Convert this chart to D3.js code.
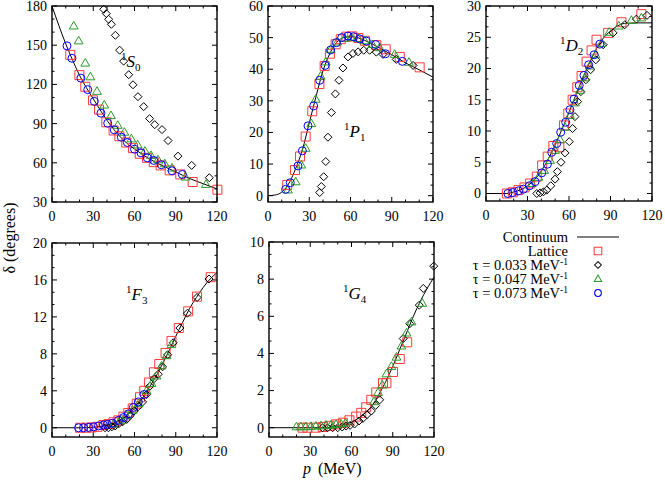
<!doctype html>
<html>
<head>
<meta charset="utf-8">
<title>Phase shifts</title>
<style>
  body { margin: 0; background: #fff; }
  text { font-family: "Liberation Serif", "DejaVu Serif", serif; fill: #000; }
</style>
</head>
<body>
<div id="here"></div>
<script src="https://d3js.org/d3.v7.min.js"></script>
<script>
  var w = 665, h = 486;

  // datos: [p (MeV), delta (grados)]
  var xTicks = [0, 30, 60, 90, 120];

  // 1S0
  var s0Cont = [[0,180],[5,165],[10,151],[15,138.5],[20,127],[25,117.5],[30,109],[35,100.5],[40,92.5],[45,85.5],[50,79.5],[55,74.5],[60,70.5],[65,67],[70,63.5],[80,58],[90,53],[100,48],[110,44],[120,40]];
  var s0Lat = [[13.3,142.6],[19.9,127.1],[24.2,118.2],[29.8,107.8],[34.2,100.7],[39.5,91],[44.8,84.7],[49,80.3],[54,75.5],[58.9,71.2],[63.8,66.9],[69.1,63.8],[74,60.5],[79,58],[85.6,54.2],[93.3,51.1],[102.3,45.3],[120.3,39.4]];
  var s0T033 = [[37.6,177.5],[39.5,174.2],[41.2,169.8],[43.2,166],[46.1,157.6],[49.2,146.2],[52.1,137.8],[55.8,127.4],[58.9,119.7],[62.5,110.6],[66.7,103],[71,93.8],[74.7,89.2],[80,85.4],[84.4,77],[91.6,65.1],[101.6,58],[114.4,48.6]];
  var s0T047 = [[15.8,164.7],[19.4,153.3],[24.2,136.3],[27.9,125.8],[32.7,114.7],[38,104.2],[42.9,96.1],[47.8,88.7],[52.6,83.4],[57.7,78.3],[62.3,73.7],[67.6,68.9],[72,65.6],[77.1,62.3],[82,59.2],[87.3,56],[97,49.1],[112,43.5]];
  var s0T073 = [[10.9,149.5],[14.5,140],[21,124.8],[26,116],[30.8,107],[35.6,98],[40.5,90.3],[45.3,85.2],[50.4,79.6],[54.8,75.5],[60,70.4],[64.7,67.6],[69.3,63.8],[74,61.8],[79.5,58.5],[87.3,53.9],[94.8,51.1]];

  // 1P1
  var p1Cont = [[0,0],[5,0.2],[10,1.1],[13,2.5],[16,4.5],[20,8.5],[25,14.5],[30,23],[35,31.5],[40,39.5],[45,45],[50,48.5],[55,50],[60,50.3],[65,50],[70,49.2],[80,47],[90,44.6],[100,42],[110,39.8],[120,37.5]];
  var p1Lat = [[14,3.4],[19.6,8.1],[23.3,12.4],[27.4,18.7],[32.2,26.7],[37.4,35.3],[41.2,41],[45,44.9],[49.2,47.9],[52.9,49.5],[57,50.3],[61.3,50.4],[65.7,49.9],[70.5,49],[78.8,47.6],[85.6,46.3],[95.8,43.9],[110.3,40.6]];
  var p1T033 = [[37.6,1],[38.8,2.9],[40.5,6],[42,10.8],[43.6,18.5],[46.1,26.3],[49,32.2],[51.6,36.5],[54.5,40.4],[58.2,43.9],[61.8,45],[65.5,45.5],[69.6,46],[73.9,46],[78.8,45.4],[83.6,44.7],[93.3,43.1],[105.5,41.2]];
  var p1T047 = [[14.5,1.8],[20.1,4.4],[24.2,9.7],[27.4,15],[31.5,22.8],[34.7,30.5],[38.3,37.8],[42,42.3],[45.6,46.3],[50.4,48.6],[55.8,49.8],[60.6,50],[65.5,49.7],[70.3,49],[75.9,47.8],[81.2,46.8],[92.1,44.7],[102.5,42.2]];
  var p1T073 = [[12.8,2],[16.2,4.1],[21.8,9.4],[25,14.2],[29.1,22.1],[33.2,28.4],[37.6,36.5],[41.5,41.2],[45.6,46.1],[49.7,48.4],[53.6,50],[58.2,50.5],[62.3,50.3],[66.7,49.6],[71.5,48.9],[78.3,47.8],[85.5,44.9],[97.7,42.5]];

  // 1D2
  var d2Cont = [[0,0],[15,0],[20,0.25],[25,0.6],[30,1.2],[35,2.2],[40,3.6],[45,5.5],[50,7.8],[55,10.3],[60,13],[65,15.8],[70,18.5],[75,21],[80,23.2],[85,24.9],[90,26],[95,26.8],[100,27.2],[110,27.3],[120,27.3]];
  var d2Lat = [[15.1,0],[19.4,0.2],[23.5,0.54],[27.8,0.97],[31.9,1.6],[36.7,2.7],[40.6,4.5],[44.6,5.9],[48.7,7.6],[53,7.4],[56.4,10.9],[59.5,12.8],[62.6,15],[66,17],[69.1,18.8],[72.7,21.1],[76.3,22.9],[79.9,24.6],[88.3,25.7],[97.9,27.4],[112.3,28.7]];
  var d2T033 = [[36.7,0],[39.1,0.1],[41.5,0.27],[43.9,0.54],[46.8,1.24],[49.9,2.3],[51.6,3.5],[54.2,5],[57.1,6.5],[60.2,8.3],[62.6,10.4],[64.3,12.3],[66.2,14.7],[68.6,16.3],[72.2,18.2],[75.6,19.8],[79.4,21.4],[84.7,23.8],[91.9,25.7],[100.3,27],[108.7,27.9],[116.4,28.5]];
  var d2T047 = [[33.1,1.6],[37.9,2.6],[42,3.7],[46.3,5.3],[49.9,6.9],[53.5,8.6],[57.1,10.6],[60.7,12.5],[64.3,14.5],[67.9,16.5],[71.5,18.5],[75.1,20.4],[79.2,22.2],[83.5,24],[89,25.8],[96,26.8],[105.1,27.7],[112.3,28.1]];
  var d2T073 = [[15.8,0],[19.4,0.16],[23.5,0.43],[27.1,0.7],[31.4,1.24],[35.5,1.9],[40.3,3.3],[44.4,4.7],[47.5,6.6],[51.1,8],[54,9.8],[57.6,11.4],[60.7,13.4],[63.6,15.1],[67.4,17.3],[70.8,18.9],[74.2,20.6],[78.2,22.2],[82.3,23.9]];

  // 1F3
  var f3Cont = [[0,0],[20,0],[30,0.05],[40,0.3],[50,0.9],[55,1.4],[60,2.1],[65,3],[70,4.2],[75,5.4],[80,6.8],[85,8.3],[90,9.9],[95,11.4],[100,12.9],[105,14.1],[110,15.2],[115,16.1],[120,16.8]];
  var f3Lat = [[20.5,0],[24.9,0],[29,0.04],[33.1,0.1],[37.4,0.3],[41,0.4],[44.7,0.6],[48.3,0.8],[51.9,1.2],[55.5,1.6],[58.7,2.1],[61.6,2.6],[64,3.3],[67.1,4],[70.5,4.9],[74.1,6],[78,6.9],[82.6,8.1],[86.9,9.4],[92.2,10.8],[99,12.6],[105.5,14.2],[115.4,16.3]];
  var f3T033 = [[38.6,0],[41,0],[43.5,0.1],[45.9,0.2],[48.3,0.4],[51.4,0.65],[54.3,0.9],[56.7,1.3],[59.6,1.8],[62.8,2.3],[65.9,2.8],[68.8,3.6],[71.2,4.5],[74.1,5.3],[77.3,5.8],[80.4,6.6],[84.1,7.9],[88.1,9.2],[93,10.8],[98.5,12.4],[105.5,14.1],[114.2,16.1]];
  var f3T047 = [[44.7,0.4],[49.5,0.8],[54,1.3],[58.5,1.9],[63,2.6],[68.8,4],[72.4,4.8],[76,5.6],[79.7,6.7],[83.3,7.8],[86.9,9]];
  var f3T073 = [[19.3,0],[22.9,0],[26.6,0.04],[30.2,0.1],[33.8,0.2],[37.4,0.3],[40.3,0.36],[44,0.5],[48.3,0.8],[51.9,1.1],[55.5,1.5],[59.2,2.2],[62.8,2.8],[66.9,3.6]];

  // 1G4
  var g4Cont = [[0,0],[40,0],[50,0.1],[60,0.3],[70,0.8],[75,1.2],[80,1.8],[85,2.5],[90,3.3],[95,4.2],[100,5.1],[105,6],[110,6.8],[115,7.5],[120,8.1]];
  var g4Lat = [[24.4,0],[28,0],[34.1,0],[39,0.04],[43.9,0.1],[48.8,0.18],[53.7,0.27],[58.5,0.4],[63.4,0.6],[67.1,0.8],[70.7,1.1],[74.4,1.5],[78,1.9],[82.9,2.4],[85.4,2.4],[90.2,3],[95.1,3.7],[100.5,4.6]];
  var g4T033 = [[39,0],[42.7,0],[46.3,0],[50,0],[53.2,0.04],[56.1,0.09],[59,0.13],[62.2,0.2],[65.4,0.36],[68.3,0.5],[71.2,0.7],[74.4,0.9],[77.6,1.2],[80.5,1.5],[97.6,4.8],[102.4,5.6],[109.3,6.6],[112.2,7.5],[119.8,8.7]];
  var g4T047 = [[20,0.05],[23.2,0.05],[26.8,0.05],[30.5,0.07],[34.1,0.09],[37.8,0.1],[41.5,0.13],[45.1,0.14],[48.8,0.18],[52.4,0.2],[55.6,0.25],[76.3,1.4],[79.3,1.9],[82.4,2.3],[85.4,2.9],[89,3.3],[92.7,3.8],[96.3,4.4],[100,5.1],[103.7,5.7],[111.5,6.7]];
  var g4T073 = [];

  var legendNames = ["Continuum", "Lattice", "τ = 0.033 MeV", "τ = 0.047 MeV", "τ = 0.073 MeV"];

  // paneles (posiciones en pixeles)
  var panels = [
    {L: "S", sub: "0", box: [52, 217, 6, 202], dom: [30, 180], major: 30, lab: [121, 67],
     cont: s0Cont, series: [s0Lat, s0T033, s0T047, s0T073]},
    {L: "P", sub: "1", box: [268, 433, 6, 202], dom: [-2, 60], major: 10, lab: [344, 137],
     cont: p1Cont, series: [p1Lat, p1T033, p1T047, p1T073]},
    {L: "D", sub: "2", box: [486, 652, 6, 201], dom: [-1.2, 30], major: 5, lab: [560, 51],
     cont: d2Cont, series: [d2Lat, d2T033, d2T047, d2T073]},
    {L: "F", sub: "3", box: [52, 217, 243, 437], dom: [-1, 20], major: 4, lab: [126, 300],
     cont: f3Cont, series: [f3Lat, f3T033, f3T047, f3T073]},
    {L: "G", sub: "4", box: [269, 434, 242, 437], dom: [-0.5, 10], major: 2, lab: [343, 299],
     cont: g4Cont, series: [g4Lat, g4T033, g4T047, g4T073]}
  ];

  var styles = [
    {shape: "square", color: "#ff3a3a"},
    {shape: "diamond", color: "#000000"},
    {shape: "triangle", color: "#2a9a2a"},
    {shape: "circle", color: "#0000ff"}
  ];

  function marker(shape) {
    if (shape == "square") return "M-4.5,-4.5H4.5V4.5H-4.5Z";
    if (shape == "diamond") return "M0,-4L4,0L0,4L-4,0Z";
    if (shape == "triangle") return "M0,-4.6L4.4,3L-4.4,3Z";
    return "M4,0A4,4 0 1,1 -4,0A4,4 0 1,1 4,0Z";
  }

  var svg = d3.select("#here").append("svg")
    .attr("width", w)
    .attr("height", h);

  panels.forEach(function(pn) {
    var x = d3.scaleLinear().domain([0, 120]).range([pn.box[0], pn.box[1]]);
    var y = d3.scaleLinear().domain(pn.dom).range([pn.box[3], pn.box[2]]);
    var g = svg.append("g");

    // ticks menores y mayores, hacia adentro en los cuatro lados
    var xs = d3.range(0, 120.001, 10);
    xs.forEach(function(v) {
      var len = (v % 30 == 0) ? 5 : 2.5;
      g.append("line").attr("x1", x(v)).attr("x2", x(v)).attr("y1", pn.box[3]).attr("y2", pn.box[3] - len).attr("stroke", "#000");
      g.append("line").attr("x1", x(v)).attr("x2", x(v)).attr("y1", pn.box[2]).attr("y2", pn.box[2] + len).attr("stroke", "#000");
    });
    var minor = pn.major / 3;
    var start = Math.ceil((pn.dom[0] - 1e-9) / minor) * minor;
    for (var i = 0; start + i * minor <= pn.dom[1] + 1e-9; i++) {
      var v = start + i * minor;
      var k = v / pn.major;
      var isMajor = Math.abs(k - Math.round(k)) < 1e-6;
      var len = isMajor ? 5 : 2.5;
      g.append("line").attr("x1", pn.box[0]).attr("x2", pn.box[0] + len).attr("y1", y(v)).attr("y2", y(v)).attr("stroke", "#000");
      g.append("line").attr("x1", pn.box[1]).attr("x2", pn.box[1] - len).attr("y1", y(v)).attr("y2", y(v)).attr("stroke", "#000");
      if (isMajor) {
        g.append("text").attr("x", pn.box[0] - 5).attr("y", y(v)).attr("dy", "0.35em")
          .attr("text-anchor", "end").style("font-size", "14px").text(Math.round(v));
      }
    }
    xTicks.forEach(function(v) {
      g.append("text").attr("x", x(v)).attr("y", pn.box[3] + 19)
        .attr("text-anchor", "middle").style("font-size", "14px").text(v);
    });

    // curva del continuo
    var line = d3.line().x(function(d) { return x(d[0]); }).y(function(d) { return y(d[1]); })
      .curve(d3.curveMonotoneX);
    g.append("path").attr("d", line(pn.cont)).attr("fill", "none").attr("stroke", "#000").attr("stroke-width", 1);

    // puntos
    pn.series.forEach(function(s, si) {
      g.selectAll(null).data(s).enter().append("path")
        .attr("d", marker(styles[si].shape))
        .attr("transform", function(d) { return "translate(" + x(d[0]) + "," + y(d[1]) + ")"; })
        .attr("fill", "none")
        .attr("stroke", styles[si].color)
        .attr("stroke-width", 1);
    });

    // marco
    g.append("rect").attr("x", pn.box[0]).attr("y", pn.box[2])
      .attr("width", pn.box[1] - pn.box[0]).attr("height", pn.box[3] - pn.box[2])
      .attr("fill", "none").attr("stroke", "#000").attr("stroke-width", 1.4);

    // etiqueta de la onda
    var t = g.append("text").attr("x", pn.lab[0]).attr("y", pn.lab[1]).style("font-size", "17px");
    t.append("tspan").attr("dy", "-7").style("font-size", "11px").text("1");
    t.append("tspan").attr("dy", "7").style("font-style", "italic").text(pn.L);
    t.append("tspan").attr("dy", "4").style("font-size", "11px").text(pn.sub);
  });

  // titulos de ejes
  svg.append("text").attr("transform", "translate(15,238) rotate(-90)")
    .attr("text-anchor", "middle").style("font-size", "16px").text("δ (degrees)");
  var xl = svg.append("text").attr("x", 303).attr("y", 474).style("font-size", "16px");
  xl.append("tspan").style("font-style", "italic").text("p");
  xl.append("tspan").attr("dx", "7").text("(MeV)");

  // leyenda
  var lg = svg.append("g");
  var rowsY = [237, 251, 265, 279, 293];
  legendNames.forEach(function(nm, i) {
    var t = lg.append("text").attr("x", 568).attr("y", rowsY[i] + 5)
      .attr("text-anchor", "end").style("font-size", "14.5px").text(nm);
    if (i >= 2) {
      t.append("tspan").attr("dy", "-5").style("font-size", "9.5px").text("-1");
    }
    if (i == 0) {
      lg.append("line").attr("x1", 577).attr("x2", 619).attr("y1", rowsY[i]).attr("y2", rowsY[i])
        .attr("stroke", "#000").attr("stroke-width", 1);
    } else {
      lg.append("path").attr("d", marker(styles[i - 1].shape))
        .attr("transform", "translate(598," + rowsY[i] + ") scale(0.85)")
        .attr("fill", "none").attr("stroke", styles[i - 1].color).attr("stroke-width", 1.2);
    }
  });
</script>
</body>
</html>
